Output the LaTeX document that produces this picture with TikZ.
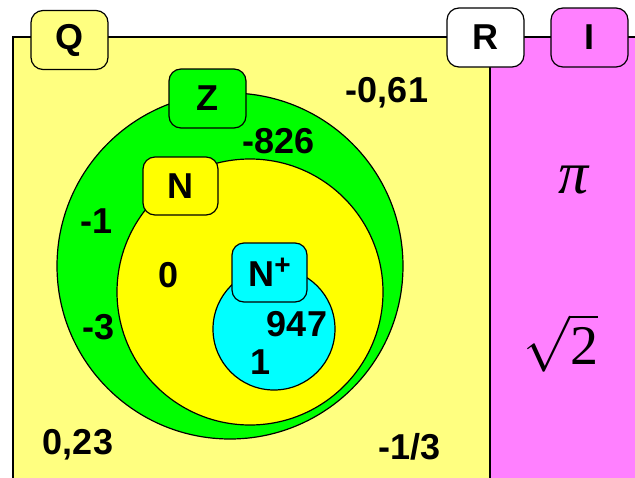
\RequirePackage{fix-cm}
\documentclass[tikz,border=0pt]{standalone}
\usepackage{fontspec}
\setmainfont{Liberation Sans}
\newfontfamily\serifrm{Liberation Serif}
\definecolor{bgyel}{HTML}{FFFF80}
\definecolor{bgmag}{HTML}{FF80FF}
\definecolor{zgreen}{HTML}{00FF00}
\definecolor{nyel}{HTML}{FFFF00}
\definecolor{ncyan}{HTML}{00FFFF}
\tikzset{
  tag/.style={draw=black, line width=1.2pt, rounded corners=12pt, minimum width=77pt, minimum height=59pt, inner sep=0pt, font=\bfseries\fontsize{36}{36}\selectfont},
  num/.style={inner sep=0pt, font=\bfseries\fontsize{36}{36}\selectfont},
  setc/.style={circle, draw=black, line width=1.2pt, inner sep=0pt},
  frame/.style={line width=1.2pt}
}
\begin{document}
\begin{tikzpicture}[x=1pt,y=-1pt]
\useasboundingbox (0,0) rectangle (635,477);
\clip (0,0) rectangle (635,477);
\fill[bgyel] (13,37) rectangle (490,490);
\fill[bgmag] (490,37) rectangle (650,490);
\draw[frame] (13,490) -- (13,37) -- (650,37);
\draw[frame] (490,37) -- (490,490);
% sets
\node[setc, fill=zgreen, minimum size=346pt] (zset) at (230,266) {};
\node[setc, fill=nyel, minimum size=266pt] (nset) at (250,292) {};
\node[setc, fill=ncyan, minimum size=122pt] (npset) at (274,329) {};
% tags
\node[tag, fill=bgyel] (qtag) at (69.5,40) {Q};
\node[tag, fill=white] (rtag) at (485.5,37.5) {R};
\node[tag, fill=bgmag] (itag) at (589.5,37.5) {I};
\node[tag, fill=zgreen] (ztag) at (207.5,98.5) {Z};
\node[tag, fill=nyel, minimum width=75pt, minimum height=58pt] (ntag) at (180.5,186) {N};
\node[tag, fill=ncyan, minimum width=75pt, minimum height=59pt] (nptag) at (269.5,272.5) {N\raisebox{0.32em}{\fontsize{28}{28}\selectfont +}};
% numbers
\node[num] (n061) at (387,93) {-0,61};
\node[num] (n826) at (279,141) {-826};
\node[num] (n1) at (97,221) {-1};
\node[num] (n0) at (169,275) {0};
\node[num] (n3) at (99,327) {-3};
\node[num] (n947) at (297,324) {947};
\node[num] (none) at (261,362) {1};
\node[num] (n023) at (78,445) {0,23};
\node[num] (n13) at (410,447) {-1/3};
\node[inner sep=0pt, font=\serifrm\itshape\fontsize{60}{60}\selectfont] (pi) at (574,180) {π};
\node[inner sep=0pt, font=\fontsize{56}{56}\selectfont] (sq) at (561,343) {$\sqrt{\hbox{\serifrm 2}}$};
\end{tikzpicture}
\end{document}
